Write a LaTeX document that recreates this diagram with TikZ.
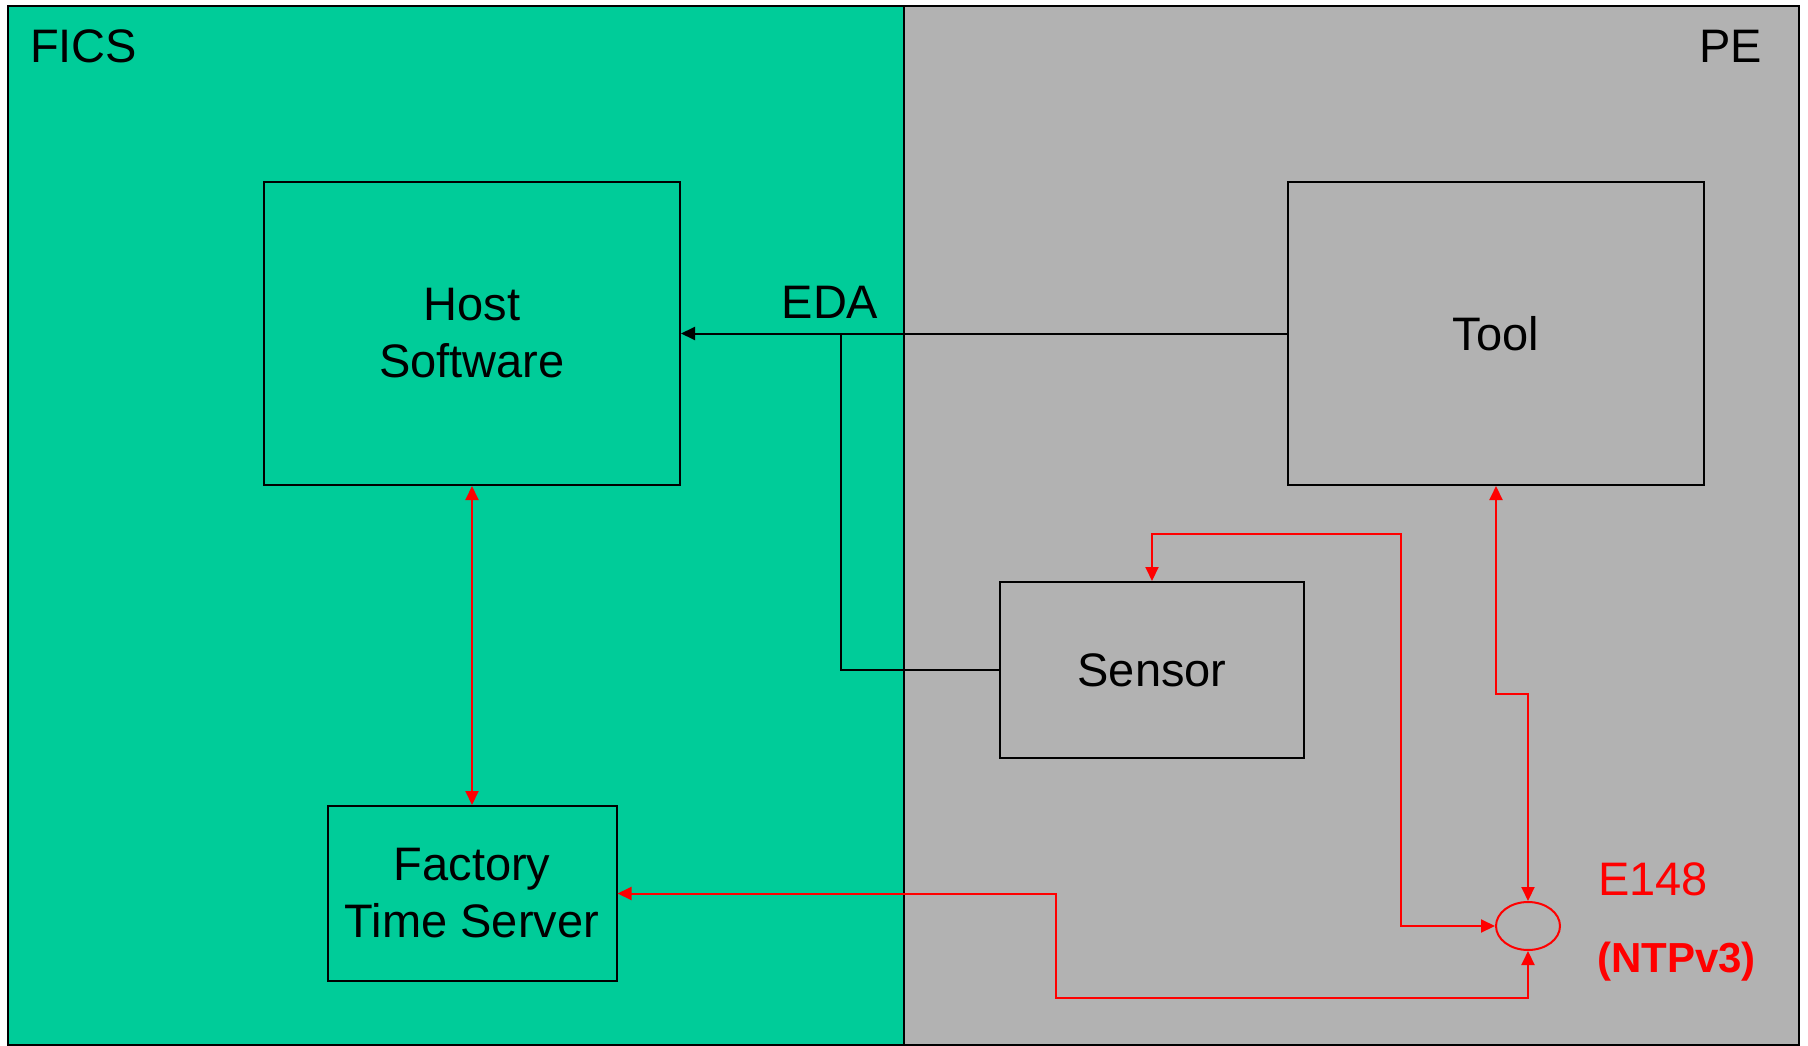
\documentclass[tikz,border=0pt]{standalone}
\usepackage{fontspec}
\setmainfont{Liberation Sans}
\usetikzlibrary{arrows.meta,shapes.geometric}
\definecolor{ficsgreen}{RGB}{0,204,153}
\definecolor{pegray}{RGB}{178,178,178}
\definecolor{ntpred}{RGB}{255,0,0}
\tikzset{
  big/.style={font=\fontsize{47}{57}\selectfont},
  blockbox/.style={draw=black,line width=2pt,rectangle,inner sep=0pt,big,align=center},
  blackarrow/.style={draw=black,line width=2pt,-{Triangle[length=14pt,width=13pt]}},
  blackline/.style={draw=black,line width=2pt},
  redlink/.style={draw=ntpred,line width=2pt,{Triangle[length=14pt,width=13pt]}-{Triangle[length=14pt,width=13pt]}},
}
\begin{document}
\begin{tikzpicture}[x=1pt,y=-1pt]
\useasboundingbox (0,0) rectangle (1808,1046);
\fill[white] (0,0) rectangle (1808,1046);
% the two domains
\fill[ficsgreen] (8,6) rectangle (904,1045);
\fill[pegray] (904,6) rectangle (1799,1045);
\draw[line width=2pt] (8,6) rectangle (1799,1045);
\draw[line width=2pt] (904,6) -- (904,1045);
\node[big,anchor=base west,inner sep=0pt] (fics) at (30,63) {FICS};
\node[big,anchor=base east,inner sep=0pt] (pe) at (1762,63) {PE};

% blocks
\node[blockbox,minimum width=416pt,minimum height=303pt] (host) at (472,333.5) {\raisebox{-4pt}{Host}\\\raisebox{-4pt}{Software}};
\node[blockbox,minimum width=416pt,minimum height=303pt] (tool) at (1496,333.5) {Tool};
\node[blockbox,minimum width=304pt,minimum height=176pt] (sensor) at (1152,670) {Sensor};
\node[blockbox,minimum width=289pt,minimum height=175pt] (fts) at (472,893.5) {Factory\\Time Server};
\node[draw=ntpred,line width=2pt,ellipse,minimum width=64pt,minimum height=48pt,inner sep=0pt] (ntp) at (1528,926) {};
\node[big,text=ntpred,anchor=base west,inner sep=0pt] (e148) at (1598,895) {E148};
\node[font=\fontsize{42}{48}\selectfont\bfseries,text=ntpred,anchor=base west,inner sep=0pt] (ntpv) at (1597,972) {(NTPv3)};

% EDA data collection
\coordinate (jn) at (841,333.5);
\draw[blackarrow] (tool.west) -- (host.east);
\draw[blackline] (sensor.west) -| (jn);
\node[big,inner sep=0pt] (eda) at (830,302) {EDA};

% time synchronisation links
\draw[redlink] (host.south) -- (fts.north);
\coordinate (f1) at (1056,893.5);
\coordinate (f2) at (1056,998);
\draw[redlink] (fts.east) -- (f1) -- (f2) -| (ntp.south);
\coordinate (s1) at (1152,534);
\coordinate (s2) at (1401,534);
\coordinate (s3) at (1401,926);
\draw[redlink] (sensor.north) -- (s1) -- (s2) -- (s3) -- (ntp.west);
\coordinate (t1) at (1496,694);
\coordinate (t2) at (1528,694);
\draw[redlink] (tool.south) -- (t1) -- (t2) -- (ntp.north);
\end{tikzpicture}
\end{document}
